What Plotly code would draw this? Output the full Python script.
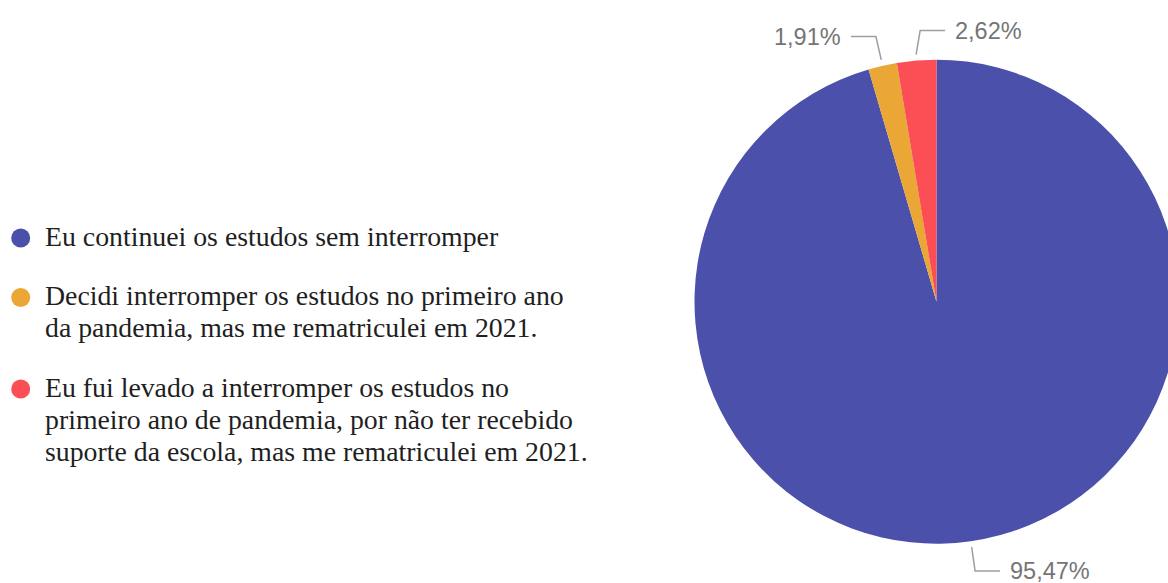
import math
import textwrap
import plotly.graph_objects as go

# Survey answers and their shares (%)
categories = [
    "Eu continuei os estudos sem interromper",
    "Decidi interromper os estudos no primeiro ano da pandemia, mas me rematriculei em 2021.",
    "Eu fui levado a interromper os estudos no primeiro ano de pandemia, por não ter recebido suporte da escola, mas me rematriculei em 2021.",
]
shares = [95.47, 1.91, 2.62]
colors = ["#4B50AA", "#EBA736", "#FC4E55"]

# Canvas and pie geometry (pixels)
W, H = 1180, 583
CX, CY, R = 936.5, 301.7, 242.0

LABEL_FONT = dict(family="Liberation Sans, Arial, sans-serif", size=23.5, color="#757575")
LEGEND_SIZE = 27.8
LEGEND_FONT = dict(family="Liberation Serif, Times New Roman, serif", size=LEGEND_SIZE, color="#1f1f1f")
LEADER_COLOR = "#9E9E9E"


def px(x):
    return x / W


def py(y):
    return 1 - y / H


fig = go.Figure()
fig.add_trace(go.Pie(
    labels=categories,
    values=shares,
    sort=False,
    direction="clockwise",
    rotation=0,
    marker=dict(colors=colors, line=dict(width=0)),
    textinfo="none",
    hoverinfo="label+percent",
    showlegend=False,
    domain=dict(x=[px(CX - R), px(CX + R)], y=[py(CY + R), py(CY - R)]),
))

shapes = []
annotations = []

# Outside value labels with elbow leader lines
total = sum(shares)
cum = 0.0
prev = None
for val in shares:
    mid = (cum + val / 2) / total * 2 * math.pi
    cum += val
    sx, sy = math.sin(mid), -math.cos(mid)
    x1, y1 = CX + (R + 6) * sx, CY + (R + 6) * sy
    x2, y2 = CX + (R + 30) * sx, CY + (R + 30) * sy
    side = 1 if sx >= 0 else -1
    if prev is not None and prev[0] == side and abs(prev[1] - y2) < 24:
        side = -side
        x2 += side * 6
    prev = (side, y2)
    x3 = x2 + side * 25
    shapes.append(dict(
        type="path", xref="paper", yref="paper",
        path=f"M {px(x1)},{py(y1)} L {px(x2)},{py(y2)} L {px(x3)},{py(y2)}",
        line=dict(color=LEADER_COLOR, width=1.5),
    ))
    annotations.append(dict(
        x=px(x3 + side * 8), y=py(y2), xref="paper", yref="paper",
        text=f"{val:.2f}".replace(".", ",") + "%",
        showarrow=False, font=LABEL_FONT,
        xanchor="left" if side > 0 else "right", yanchor="middle",
    ))

# Legend: round swatches with wrapped serif text
LINE_STEP = 32.0
ITEM_GAP = 59.5
MARK_X = 20.7
TEXT_X = 43.0
baseline = 245.5
for name, col in zip(categories, colors):
    lines = textwrap.wrap(name, width=47)
    cy = baseline - 7.5
    shapes.append(dict(
        type="circle", xref="paper", yref="paper",
        xsizemode="pixel", ysizemode="pixel",
        xanchor=px(MARK_X), yanchor=py(cy),
        x0=-9.5, x1=9.5, y0=-9.5, y1=9.5,
        fillcolor=col, line=dict(width=0),
    ))
    for i, ln in enumerate(lines):
        b = baseline + i * LINE_STEP
        annotations.append(dict(
            x=px(TEXT_X), y=py(b - 0.3375 * LEGEND_SIZE), xref="paper", yref="paper",
            text=ln, showarrow=False, font=LEGEND_FONT,
            xanchor="left", yanchor="middle",
        ))
    baseline += (len(lines) - 1) * LINE_STEP + ITEM_GAP

fig.update_layout(
    width=W, height=H,
    margin=dict(l=0, r=0, t=0, b=0),
    paper_bgcolor="white", plot_bgcolor="white",
    shapes=shapes, annotations=annotations,
    showlegend=False,
)

fig.write_html(
    "out.html",
    config={"displayModeBar": False},
    post_script="document.documentElement.style.overflow='hidden';document.body.style.overflow='hidden';",
)
